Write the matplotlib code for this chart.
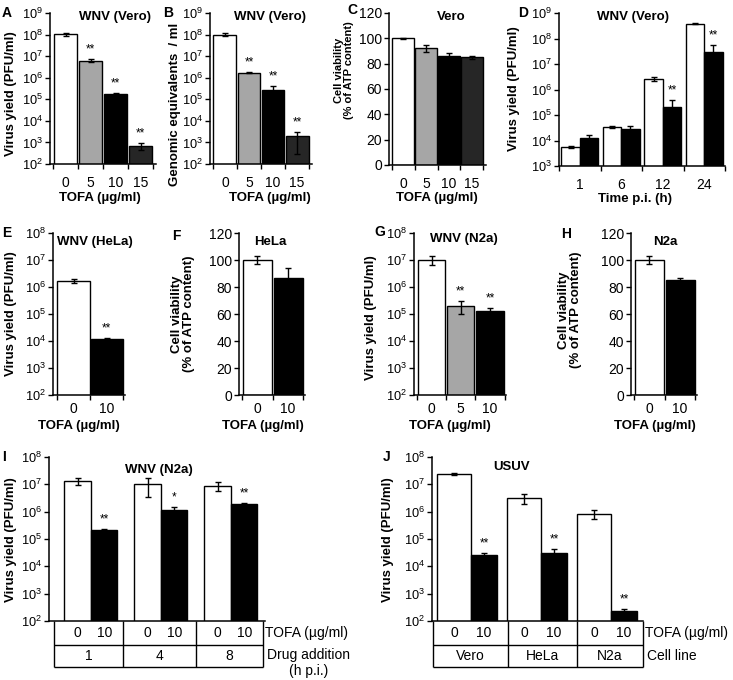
import matplotlib
matplotlib.use('Agg')
import matplotlib.pyplot as plt
from matplotlib.ticker import NullLocator, FixedLocator, NullFormatter
import numpy as np

plt.rcParams['font.family'] = ['Liberation Sans', 'DejaVu Sans']
plt.rcParams['mathtext.fontset'] = 'custom'
plt.rcParams['mathtext.rm'] = 'Liberation Sans'
plt.rcParams['mathtext.it'] = 'Liberation Sans:italic'
plt.rcParams['mathtext.bf'] = 'Liberation Sans:bold'

# ---------------- data ----------------
tofa_doses_4 = ['0', '5', '10', '15']
a_vero_yield = [1.05e8, 6.1e6, 1.8e5, 7.0e2]
a_vero_err = [1.8e7, 1.0e6, 2.0e4, 2.5e2]
a_sig = ['', '**', '**', '**']

b_vero_geq = [1.0e8, 1.7e6, 2.7e5, 2.0e3]
b_err_lo = [1.5e7, 1.0e5, 1.0e5, 1.7e3]
b_err_hi = [1.5e7, 1.0e5, 1.6e5, 1.2e3]
b_sig = ['', '**', '**', '**']

c_vero_viab = [100, 92, 86, 85]
c_err = [0.5, 3, 2.5, 1]

d_times = ['1', '6', '12', '24']
d_ctrl = [5.7e3, 3.5e4, 2.6e6, 3.8e8]
d_ctrl_err = [6e2, 3e3, 4e5, 2e7]
d_tofa = [1.3e4, 2.8e4, 2.1e5, 2.9e7]
d_tofa_err = [4e3, 1e4, 1.9e5, 2.8e7]
d_sig = ['', '', '**', '**']

tofa_doses_2 = ['0', '10']
e_hela_yield = [1.7e6, 1.15e4]
e_err = [2.5e5, 1.5e3]
e_sig = ['', '**']

f_hela_viab = [100, 87]
f_err = [3, 7]

tofa_doses_3 = ['0', '5', '10']
g_n2a_yield = [1.0e7, 2.0e5, 1.3e5]
g_err = [3.5e6, 1.0e5, 4e4]
g_sig = ['', '**', '**']

h_n2a_viab = [100, 85.5]
h_err = [3, 1]

i_addition = ['1', '4', '8']
i_ctrl = [1.3e7, 1.0e7, 9.0e6]
i_ctrl_err = [3.5e6, 6.5e6, 3.5e6]
i_tofa = [2.1e5, 1.2e6, 1.9e6]
i_tofa_err = [1.5e4, 3e5, 2.5e5]
i_sig = ['**', '*', '**']

j_cells = ['Vero', 'HeLa', 'N2a']
j_ctrl = [2.4e7, 3.2e6, 8.2e5]
j_ctrl_err = [1.5e6, 1.3e6, 3e5]
j_tofa = [2.5e4, 3.2e4, 2.3e2]
j_tofa_err = [6e3, 1.1e4, 45]
j_sig = ['**', '**', '**']

colors_4 = ['#ffffff', '#a6a6a6', '#000000', '#262626']
colors_3 = ['#ffffff', '#a6a6a6', '#000000']
colors_2 = ['#ffffff', '#000000']

# ---------------- layout helpers ----------------
W, H = 733, 680
fig = plt.figure(figsize=(W / 100, H / 100), dpi=100)


def px(l, t, r, b):
    return [l / W, 1 - b / H, (r - l) / W, (b - t) / H]


def ftext(x, y, s, **kw):
    fig.text(x / W, 1 - y / H, s, **kw)


LBL = 9.5
EDGE = 1.0


def style(ax, xpad=8.5):
    ax.set_facecolor('none')
    for s in ('top', 'right'):
        ax.spines[s].set_visible(False)
    for s in ('left', 'bottom'):
        ax.spines[s].set_linewidth(1.1)
    ax.tick_params(axis='y', which='major', direction='out', length=3.5, width=1.0,
                   pad=1.5, labelsize=9.2)
    ax.tick_params(axis='x', which='major', direction='out', length=3.5, width=1.0,
                   labelbottom=False)
    ax.tick_params(axis='x', which='minor', length=0, pad=xpad, labelsize=10)


def log_y(ax, lo, hi):
    ax.set_yscale('log')
    ax.set_ylim(10.0 ** lo, 10.0 ** hi)
    ax.yaxis.set_major_locator(FixedLocator([10.0 ** k for k in range(lo, hi + 1)]))
    ax.yaxis.set_minor_locator(NullLocator())
    ax.yaxis.set_minor_formatter(NullFormatter())


def lin_y(ax):
    ax.set_ylim(0, 120)
    ax.set_yticks(range(0, 121, 20))
    ax.tick_params(axis='y', labelsize=10)


def cat_x(ax, labels, xlim):
    n = len(labels)
    ax.set_xlim(*xlim)
    ax.set_xticks(np.arange(-0.5, n, 1.0))
    ax.set_xticks(np.arange(n), labels=labels, minor=True)


def stars(ax, xs, tops, sig, off=2.5):
    for x, t, s in zip(xs, tops, sig):
        if s:
            ax.annotate(s, xy=(x, t), xytext=(0, off), textcoords='offset points',
                        ha='center', va='bottom', fontsize=8.5, zorder=4)


def bars(ax, vals, lo, hi, colors, width, sig=None):
    x = np.arange(len(vals))
    ax.bar(x, vals, width=width, color=colors, edgecolor='black', linewidth=EDGE, zorder=2)
    ax.errorbar(x, vals, yerr=[lo, hi], fmt='none', ecolor='black', elinewidth=1.0,
                capsize=2.5, capthick=1.0, zorder=3)
    if sig:
        stars(ax, x, np.array(vals) + np.array(hi), sig)


# ---------------- A ----------------
axA = fig.add_axes(px(50, 13, 156, 164))
style(axA); log_y(axA, 2, 9); cat_x(axA, tofa_doses_4, (-0.62, 3.62))
bars(axA, a_vero_yield, a_vero_err, a_vero_err, colors_4, 0.92, a_sig)

# ---------------- B ----------------
axB = fig.add_axes(px(210, 13, 312, 164))
style(axB); log_y(axB, 2, 9); cat_x(axB, tofa_doses_4, (-0.62, 3.62))
bars(axB, b_vero_geq, b_err_lo, b_err_hi, colors_4, 0.95, b_sig)

# ---------------- C ----------------
axC = fig.add_axes(px(389, 13, 486, 165))
style(axC); lin_y(axC); cat_x(axC, tofa_doses_4, (-0.62, 3.62))
bars(axC, c_vero_viab, c_err, c_err, colors_4, 0.95)

# ---------------- D ----------------
axD = fig.add_axes(px(559, 13, 725, 166))
style(axD); log_y(axD, 3, 9); cat_x(axD, d_times, (-0.5, 3.5))
xd = np.arange(len(d_times))
axD.bar(xd - 0.22, d_ctrl, 0.44, color='white', edgecolor='black', linewidth=EDGE, zorder=2)
axD.bar(xd + 0.22, d_tofa, 0.44, color='black', edgecolor='black', linewidth=EDGE, zorder=2)
axD.errorbar(xd - 0.22, d_ctrl, yerr=d_ctrl_err, fmt='none', ecolor='black', elinewidth=1.0,
             capsize=2.5, capthick=1.0, zorder=3)
axD.errorbar(xd + 0.22, d_tofa, yerr=d_tofa_err, fmt='none', ecolor='black', elinewidth=1.0,
             capsize=2.5, capthick=1.0, zorder=3)
stars(axD, xd + 0.22, np.array(d_tofa) + np.array(d_tofa_err), d_sig)

# ---------------- E ----------------
axE = fig.add_axes(px(53, 233, 125, 395))
style(axE, 5); log_y(axE, 2, 8); cat_x(axE, tofa_doses_2, (-0.62, 1.55))
bars(axE, e_hela_yield, e_err, e_err, colors_2, 0.97, e_sig)

# ---------------- F ----------------
axF = fig.add_axes(px(239, 233, 305, 395))
style(axF, 5); lin_y(axF); cat_x(axF, tofa_doses_2, (-0.6, 1.55))
bars(axF, f_hela_viab, f_err, f_err, colors_2, 0.95)

# ---------------- G ----------------
axG = fig.add_axes(px(414, 233, 506, 395))
style(axG, 5); log_y(axG, 2, 8); cat_x(axG, tofa_doses_3, (-0.6, 2.55))
bars(axG, g_n2a_yield, g_err, g_err, colors_3, 0.94, g_sig)

# ---------------- H ----------------
axH = fig.add_axes(px(631, 233, 697, 395))
style(axH, 5); lin_y(axH); cat_x(axH, tofa_doses_2, (-0.6, 1.55))
bars(axH, h_n2a_viab, h_err, h_err, colors_2, 0.95)


# ---------------- I & J (with tables) ----------------
def grouped_with_table(rect, xlim, ctrl, ctrl_err, tofa, tofa_err, sig,
                       w_off, w_w, b_off, b_w, bounds, groups, row2, row2_y, row2_va):
    l, t, r, b = rect
    ax = fig.add_axes(px(l, t, r, b))
    style(ax); log_y(ax, 2, 8)
    ax.set_xlim(*xlim)
    ax.set_xticks([])
    x = np.arange(len(groups))
    ax.bar(x + w_off, ctrl, w_w, align='edge', color='white', edgecolor='black',
           linewidth=EDGE, zorder=2)
    ax.bar(x + b_off, tofa, b_w, align='edge', color='black', edgecolor='black',
           linewidth=EDGE, zorder=2)
    cw = x + w_off + w_w / 2
    cb = x + b_off + b_w / 2
    ax.errorbar(cw, ctrl, yerr=ctrl_err, fmt='none', ecolor='black', elinewidth=1.0,
                capsize=2.5, capthick=1.0, zorder=3)
    ax.errorbar(cb, tofa, yerr=tofa_err, fmt='none', ecolor='black', elinewidth=1.0,
                capsize=2.5, capthick=1.0, zorder=3)
    stars(ax, cb, np.array(tofa) + np.array(tofa_err), sig)

    tax = fig.add_axes(px(l, b, r, b + 46))
    tax.set_xlim(*xlim)
    tax.set_ylim(46, 0)
    tax.axis('off')
    kw = dict(color='black', lw=1.0, clip_on=False, solid_capstyle='butt')
    tax.plot([bounds[0], bounds[-1]], [24, 24], **kw)
    tax.plot([bounds[0], bounds[-1]], [46, 46], **kw)
    for bb in bounds:
        tax.plot([bb, bb], [0, 46], **kw)
    for xw, xb in zip(cw, cb):
        tax.text(xw, 12, tofa_doses_2[0], ha='center', va='center', fontsize=10)
        tax.text(xb, 12, tofa_doses_2[1], ha='center', va='center', fontsize=10)
    for i, g in enumerate(groups):
        tax.text((bounds[i] + bounds[i + 1]) / 2, 35, g, ha='center', va='center', fontsize=10)
    tax.text(bounds[-1] + 0.03, 12, 'TOFA (µg/ml)', ha='left', va='center', fontsize=10,
             clip_on=False)
    tax.text(bounds[-1] + 0.06, row2_y, row2, ha='left', va=row2_va, fontsize=10,
             multialignment='center', linespacing=1.15, clip_on=False)
    return ax


axI = grouped_with_table((49, 457, 265, 621), (-0.586, 2.5), i_ctrl, i_ctrl_err, i_tofa,
                         i_tofa_err, i_sig, -0.37, 0.39, 0.02, 0.37,
                         [-0.514, 0.471, 1.514, 2.471], i_addition,
                         'Drug addition\n(h p.i.)', 27, 'top')
axJ = grouped_with_table((432, 457, 643, 621), (-0.514, 2.5), j_ctrl, j_ctrl_err, j_tofa,
                         j_tofa_err, j_sig, -0.44, 0.48, 0.04, 0.38,
                         [-0.5, 0.571, 1.557, 2.5], j_cells,
                         'Cell line', 35, 'center')

# ---------------- texts ----------------
B = dict(fontweight='bold')
# panel letters
for letter, x, y in [('A', 2, 13), ('B', 163, 13), ('C', 347, 10), ('D', 518, 13),
                     ('E', 2, 233), ('F', 172, 236), ('G', 374, 232), ('H', 561, 234),
                     ('I', 2, 457), ('J', 383, 457)]:
    ftext(x, y, letter, ha='left', va='center', fontsize=10, **B)

# titles
for s, x, y, ha in [('WNV (Vero)', 115, 17, 'center'), ('WNV (Vero)', 270, 17, 'center'),
                    ('Vero', 451, 17, 'center'), ('WNV (Vero)', 633, 17, 'center'),
                    ('WNV (HeLa)', 57, 242, 'left'), ('HeLa', 270, 242, 'center'),
                    ('WNV (N2a)', 464, 239, 'center'), ('N2a', 665, 242, 'center'),
                    ('WNV (N2a)', 159, 470, 'center'), ('USUV', 512, 467, 'center')]:
    ftext(x, y, s, ha=ha, va='center', fontsize=LBL, **B)

# y labels
vy = 'Virus yield (PFU/ml)'
cv = 'Cell viability\n(% of ATP content)'
for s, x, y, fs in [(vy, 11, 94, LBL), ('Genomic equivalents  / ml', 175, 104, LBL),
                    (cv, 344, 70, 8.0), (vy, 514, 89, LBL), (vy, 11, 314, LBL),
                    (cv, 183, 314, LBL), (vy, 371, 318, LBL), (cv, 570, 310, LBL),
                    (vy, 11, 540, LBL), (vy, 388, 540, LBL)]:
    ftext(x, y, s, ha='center', va='center', rotation=90, fontsize=fs,
          multialignment='center', linespacing=1.05, **B)

# x labels
tl = 'TOFA (µg/ml)'
for s, x, y in [(tl, 100, 198), (tl, 270, 198), (tl, 437, 198), ('Time p.i. (h)', 635, 199),
                (tl, 79, 426), (tl, 263, 426), (tl, 450, 426), (tl, 655, 426)]:
    ftext(x, y, s, ha='center', va='center', fontsize=LBL, **B)

fig.savefig('out.png', dpi=100)
